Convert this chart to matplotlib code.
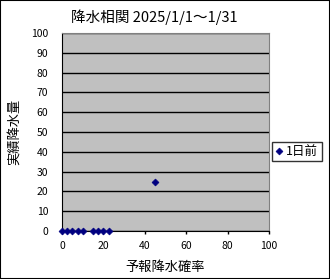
import matplotlib
matplotlib.use("Agg")
import matplotlib.pyplot as plt
from matplotlib.patches import Rectangle

plt.rcParams['font.family'] = ['Noto Sans CJK JP', 'DejaVu Sans']

title = "降水相関 2025/1/1～1/31"
xlabel = "予報降水確率"
ylabel = "実績降水量"
series_name = "1日前"
forecast = [0, 2.5, 5, 7.5, 10, 15, 17.5, 20, 22.5, 45]
actual = [0, 0, 0, 0, 0, 0, 0, 0, 0, 25]

fig = plt.figure(figsize=(3.3, 2.79), dpi=100)
ax = fig.add_axes([62/330, 1-231/279, 207/330, 198/279])
ax.set_facecolor('#C0C0C0')
ax.set_xlim(0, 100)
ax.set_ylim(0, 100)
ax.set_xticks(range(0, 101, 20))
ax.set_yticks(range(0, 101, 10))
ax.grid(axis='y', color='black', linewidth=1)
ax.set_axisbelow(True)
ax.tick_params(axis='x', labelsize=7.5, length=2.5, width=1, color='black', pad=5)
ax.tick_params(axis='y', labelsize=7.5, length=0, pad=10)
for s in ['top', 'right']:
    ax.spines[s].set_color('#808080')
for s in ['left', 'bottom']:
    ax.spines[s].set_color('black')
ax.plot(forecast, actual, linestyle='none', marker='D', ms=3.5, mew=0.5, color='#000080',
        label=series_name, clip_on=False, zorder=5)
fig.text(154/330, 1-17.5/279, title, fontsize=10.5, ha='center', va='center')
ax.set_xlabel(xlabel, fontsize=9.5)
ax.set_ylabel(ylabel, fontsize=9.5)
ax.xaxis.set_label_coords(0.5, (231-267.5)/198)
ax.yaxis.set_label_coords((14-62)/207, 0.5)
ax.xaxis.label.set_va('center')
ax.yaxis.label.set_va('center')
leg = ax.legend(loc='center left', bbox_to_anchor=(272/330, 1-151.5/279), bbox_transform=fig.transFigure,
                fontsize=9, frameon=True, fancybox=False, edgecolor='black',
                handlelength=0.6, handletextpad=0.3, borderpad=0.25, borderaxespad=0)
leg.get_frame().set_linewidth(1)
fig.patches.append(Rectangle((0, 0), 1, 1, transform=fig.transFigure, fill=False,
                             edgecolor='black', linewidth=1.5))
fig.savefig('out.png', dpi=100)
